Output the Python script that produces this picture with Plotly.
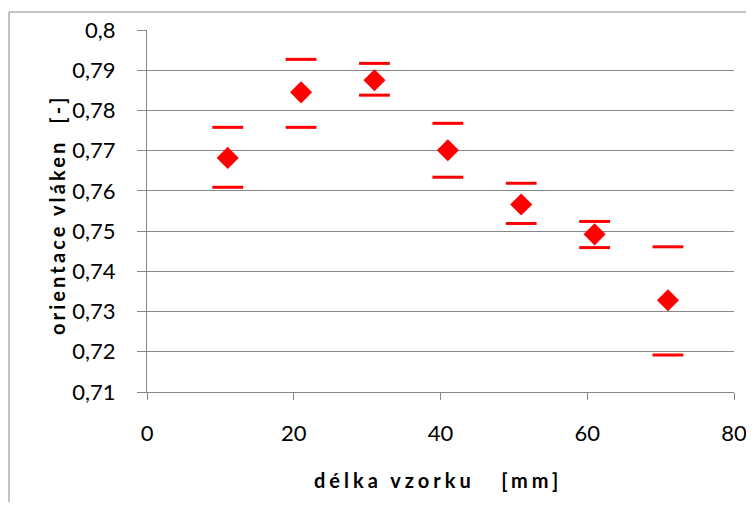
import plotly.graph_objects as go

# data
delka = [11, 21, 31, 41, 51, 61, 71]
orientace = [0.7682, 0.7845, 0.7875, 0.7701, 0.7566, 0.7492, 0.7328]
horni = [0.7758, 0.7927, 0.7917, 0.7768, 0.7619, 0.7524, 0.7461]
dolni = [0.7609, 0.7758, 0.7838, 0.7634, 0.7519, 0.7459, 0.7192]
y_ticks = [0.71, 0.72, 0.73, 0.74, 0.75, 0.76, 0.77, 0.78, 0.79, 0.80]
y_labels = ["0,71", "0,72", "0,73", "0,74", "0,75", "0,76", "0,77", "0,78", "0,79", "0,8"]
x_ticks = [0, 20, 40, 60, 80]
x_title = "délka vzorku   [mm]"
y_title = "orientace vláken  [-]"

RED = "#ff0000"
GRID = "#868686"
FONT = "Lato"

fig = go.Figure()
# error bar caps (upper / lower)
for vals in (horni, dolni):
    fig.add_trace(go.Scatter(
        x=delka, y=vals, mode="markers",
        marker=dict(symbol="line-ew", size=22, color=RED,
                    line=dict(color=RED, width=3)),
        showlegend=False, hoverinfo="skip"))
fig.add_trace(go.Scatter(
    x=delka, y=orientace, mode="markers",
    marker=dict(symbol="diamond", size=17, color=RED, line=dict(width=0)),
    showlegend=False))

# figure sits 8px into the page (body margin); keep page from overflowing
W, H = 738, 494
L, R, T, B = 139, 12, 22, 110
pw, ph = W - L - R, H - T - B

def px(x):
    return (x - L) / pw

def py(y):
    return (H - B - y) / ph

fig.update_layout(
    width=W, height=H,
    margin=dict(l=L, r=R, t=T, b=B, autoexpand=False),
    paper_bgcolor="white", plot_bgcolor="white",
    font=dict(family=FONT, size=22, color="#000000"),
    xaxis=dict(range=[0, 80], tickvals=x_ticks, ticktext=[str(v) for v in x_ticks],
               showgrid=False, zeroline=False, showline=True, linecolor=GRID,
               linewidth=1, ticks="outside", ticklen=7, tickcolor=GRID,
               ticklabelstandoff=15, ticklabeloverflow="allow", automargin=False,
               tickfont=dict(family=FONT, size=22)),
    yaxis=dict(range=[0.71, 0.80], tickvals=y_ticks, ticktext=y_labels,
               showgrid=True, gridcolor=GRID, gridwidth=1, zeroline=False,
               showline=True, linecolor=GRID, linewidth=1, ticks="outside",
               ticklen=9, tickcolor=GRID, ticklabelstandoff=17, automargin=False,
               tickfont=dict(family=FONT, size=22)),
    shapes=[dict(type="rect", xref="paper", yref="paper",
                 x0=px(1), x1=px(770), y0=py(530), y1=py(4),
                 line=dict(color=GRID, width=1), fillcolor="rgba(0,0,0,0)",
                 layer="below")],
    annotations=[
        dict(text='<span style="letter-spacing:4px;white-space:pre">' + x_title + '</span>',
             xref="paper", yref="paper", xanchor="center", yanchor="middle",
             x=px(430), y=py(472), showarrow=False,
             font=dict(family=FONT, size=20, weight="bold")),
        dict(text='<span style="letter-spacing:3.1px;white-space:pre">' + y_title + '</span>',
             xref="paper", yref="paper", xanchor="center", yanchor="middle",
             x=px(49), y=py(207), showarrow=False, textangle=-90,
             font=dict(family=FONT, size=20, weight="bold")),
    ],
)

fig.write_html("out.html")
